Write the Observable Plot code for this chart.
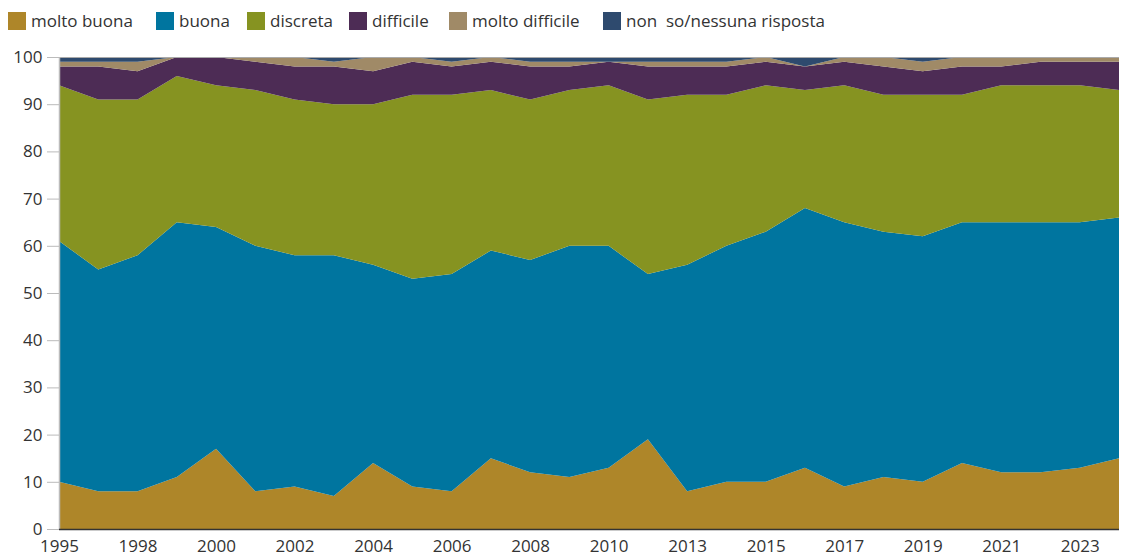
<!DOCTYPE html>
<html>
<head>
<meta charset="utf-8">
<script src="https://cdn.jsdelivr.net/npm/d3@7"></script>
<script src="https://cdn.jsdelivr.net/npm/@observablehq/plot@0.6"></script>
<style>
  body { margin: 0; background: #fff; font-family: "Open Sans", sans-serif; }
  #wrap { position: relative; width: 1121px; height: 557px; }
  #legend { position: absolute; left: 0; top: 0; width: 1121px; height: 40px; }
  .item { position: absolute; top: 9px; display: flex; align-items: center; font-size: 17px; color: #333; white-space: pre; }
  .sw { width: 18px; height: 18px; margin-right: 5px; }
  #chart { position: absolute; left: 0; top: 40px; }
</style>
</head>
<body>
<div id="wrap">
  <div id="legend"></div>
  <div id="chart"></div>
</div>
<script>
const years = ["1995","1997","1998","1999","2000","2001","2002","2003","2004","2005","2006","2007","2008","2009","2010","2012","2013","2014","2015","2016","2017","2018","2019","2020","2021","2022","2023","2024"];
const tickYears = ["1995","1998","2000","2002","2004","2006","2008","2010","2013","2015","2017","2019","2021","2023"];
const categories = ["molto buona","buona","discreta","difficile","molto difficile","non  so/nessuna risposta"];
const colors = ["#AE8629","#00759F","#869321","#4D2C55","#A08A67","#2E4A6E"];

const moltoBuona = [10,8,8,11,17,8,9,7,14,9,8,15,12,11,13,19,8,10,10,13,9,11,10,14,12,12,13,15];
const buona      = [51,47,50,54,47,52,49,51,42,44,46,44,45,49,47,35,48,50,53,55,56,52,52,51,53,53,52,51];
const discreta   = [33,36,33,31,30,33,33,32,34,39,38,34,34,33,34,37,36,32,31,25,29,29,30,27,29,29,29,27];
const difficile  = [4,7,6,4,6,6,7,8,7,7,6,6,7,5,5,7,6,6,5,5,5,6,5,6,4,5,5,6];
const moltoDifficile = [1,1,2,0,0,1,2,1,3,1,1,1,1,1,0,1,1,1,1,0,1,2,2,2,2,1,1,1];
const nonSo      = [1,1,1,0,0,0,0,1,0,0,1,0,1,1,1,1,1,1,0,2,0,0,1,0,0,0,0,0];

const series = [moltoBuona, buona, discreta, difficile, moltoDifficile, nonSo];
const data = [];
categories.forEach((c, ci) => {
  years.forEach((y, i) => data.push({year: y, cat: c, value: series[ci][i]}));
});

// legend
const legendX = [8, 156, 247, 349, 449, 603];
const legend = document.getElementById("legend");
categories.forEach((c, i) => {
  const d = document.createElement("div");
  d.className = "item";
  d.style.left = legendX[i] + "px";
  d.innerHTML = `<span class="sw" style="background:${colors[i]}"></span><span>${c}</span>`;
  legend.appendChild(d);
});

const chart = Plot.plot({
  width: 1121,
  height: 517,
  marginTop: 17,
  marginBottom: 28,
  marginLeft: 59,
  marginRight: 2,
  style: {fontFamily: "Open Sans, sans-serif", fontSize: "17px", color: "#333", background: "#fff"},
  x: {type: "point", domain: years, padding: 0, round: false},
  y: {domain: [0, 100]},
  color: {domain: categories, range: colors},
  marks: [
    Plot.areaY(data, {x: "year", y: "value", fill: "cat", order: categories}),
    Plot.ruleY([100], {stroke: "#aaa", strokeWidth: 1}),
    Plot.ruleX([years[0]], {stroke: "#bbb", strokeWidth: 1.5}),
    Plot.axisY({ticks: d3.range(0, 101, 10), tickSize: 12, tickPadding: 5, stroke: "#bbb", fill: "#333", label: null, fontSize: 17}),
    Plot.axisX({ticks: tickYears, tickSize: 0, tickPadding: 10, fill: "#333", label: null, fontSize: 17}),
    Plot.ruleY([0], {stroke: "#333", strokeWidth: 1.5})
  ]
});
document.getElementById("chart").appendChild(chart);
</script>
</body>
</html>
